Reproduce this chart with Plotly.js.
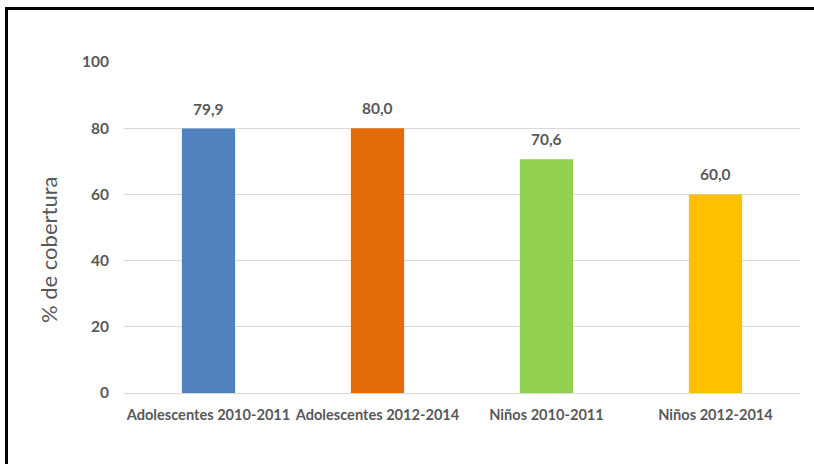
<!DOCTYPE html>
<html>
<head>
<meta charset="utf-8">
<script src="https://cdn.plot.ly/plotly-3.0.1.min.js"></script>
<style>
  html, body { margin: 0; padding: 0; background: #ffffff; }
  #wrap { position: relative; width: 814px; height: 464px; overflow: hidden; }
  #chart { position: absolute; left: 0; top: 0; width: 814px; height: 464px; }
  .bt { position: absolute; left: 5px; top: 7px; width: 809px; height: 3px; background: #000; }
  .bl { position: absolute; left: 5px; top: 7px; width: 3px; height: 457px; background: #000; }
</style>
</head>
<body>
<div id="wrap">
  <div id="chart"></div>
  <div class="bt"></div>
  <div class="bl"></div>
</div>
<script>
const categories = ["Adolescentes 2010-2011", "Adolescentes 2012-2014", "Niños 2010-2011", "Niños 2012-2014"];
const values = [79.9, 80.0, 70.6, 60.0];
const barColors = ["#4F81BD", "#E36C09", "#92D050", "#FFC000"];
const yTicks = [0, 20, 40, 60, 80, 100];
const yTitle = "% de cobertura";

const FONT = "Lato, 'Open Sans', 'Liberation Sans', sans-serif";
const GRAY = "#595959";

const trace = {
  type: "bar",
  x: categories,
  y: values,
  marker: { color: barColors, line: { width: 0 } },
  width: 0.315,
  hoverinfo: "skip",
  showlegend: false
};

const annotations = categories.map((c, i) => ({
  x: c,
  y: values[i],
  xref: "x",
  yref: "y",
  text: values[i].toFixed(1).replace(".", ","),
  showarrow: false,
  yanchor: "bottom",
  yshift: 9,
  font: { family: FONT, size: 15.5, color: GRAY, weight: "bold" }
}));

annotations.push({
  xref: "paper",
  yref: "paper",
  x: -0.1124,
  y: 0.432,
  xanchor: "center",
  yanchor: "middle",
  textangle: -90,
  text: yTitle,
  showarrow: false,
  font: { family: FONT, size: 22, color: GRAY }
});

const layout = {
  width: 814,
  height: 464,
  margin: { l: 124, r: 14, t: 62, b: 71 },
  paper_bgcolor: "#ffffff",
  plot_bgcolor: "#ffffff",
  separators: ",.",
  font: { family: FONT, color: GRAY },
  xaxis: {
    type: "category",
    showgrid: false,
    zeroline: false,
    showline: false,
    ticks: "",
    ticklabelstandoff: 11,
    tickfont: { family: FONT, size: 14.6, color: GRAY, weight: "bold" },
    fixedrange: true
  },
  yaxis: {
    range: [0, 100],
    tickvals: yTicks,
    ticktext: yTicks.map(String),
    showgrid: true,
    gridcolor: "#d9d9d9",
    gridwidth: 1,
    zeroline: true,
    zerolinecolor: "#d9d9d9",
    zerolinewidth: 1,
    showline: false,
    ticks: "",
    ticklabelstandoff: 14,
    tickfont: { family: FONT, size: 15.5, color: GRAY, weight: "bold" },
    fixedrange: true
  },
  annotations: annotations,
  bargap: 0.685
};

Plotly.newPlot("chart", [trace], layout, { displayModeBar: false, staticPlot: true });
</script>
</body>
</html>
